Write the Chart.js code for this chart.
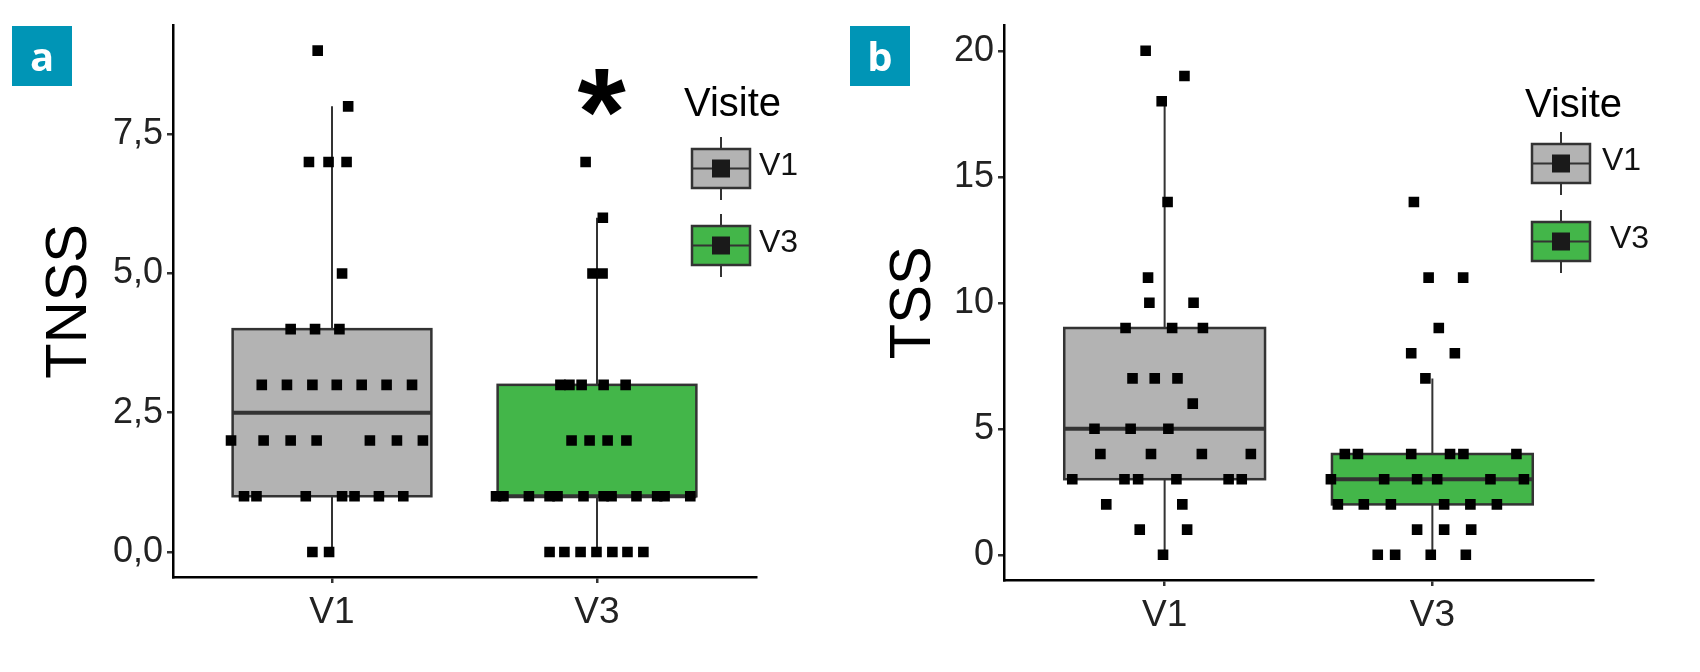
<!DOCTYPE html>
<html>
<head>
<meta charset="utf-8">
<script src="https://cdn.jsdelivr.net/npm/chart.js@4.4.1/dist/chart.umd.min.js"></script>
<style>
  body { margin: 0; background: #fff; }
  .panel { position: absolute; top: 0; width: 850px; height: 672px; }
  #panelA { left: 0; }
  #panelB { left: 850px; }
</style>
</head>
<body>
<div class="panel" id="panelA"><canvas id="chartA"></canvas></div>
<div class="panel" id="panelB"><canvas id="chartB"></canvas></div>
<script>
const categories = ['V1', 'V3'];
const boxColors = ['#B3B3B3', '#43B649'];

// TNSS (panel a) - values and jittered x positions
const tnssV1 = [9, 8, 7, 7, 7, 5, 4, 4, 4, 3, 3, 3, 3, 3, 3, 3, 2, 2, 2, 2, 2, 2, 2, 1, 1, 1, 1, 1, 1, 1, 0, 0];
const tnssV1X = [0.946, 1.061, 0.913, 0.987, 1.055, 1.038, 0.844, 0.936, 1.028, 0.735, 0.830, 0.926, 1.018, 1.112, 1.206, 1.302,
                 0.619, 0.742, 0.844, 0.942, 1.143, 1.245, 1.343, 0.668, 0.715, 0.901, 1.038, 1.085, 1.177, 1.269, 0.926, 0.989];
const tnssV3 = [7, 6, 5, 5, 3, 3, 3, 3, 3, 2, 2, 2, 2, 1, 1, 1, 1, 1, 1, 1, 1, 1, 1, 1, 1, 0, 0, 0, 0, 0, 0, 0];
const tnssV3X = [1.957, 2.022, 1.983, 2.021, 1.862, 1.896, 1.942, 2.025, 2.108, 1.904, 1.972, 2.040, 2.111,
                 1.619, 1.647, 1.743, 1.821, 1.851, 1.949, 2.025, 2.055, 2.149, 2.227, 2.255, 2.352,
                 1.821, 1.877, 1.938, 1.998, 2.058, 2.115, 2.175];
const tnssTicks = [0, 2.5, 5, 7.5];

// TSS (panel b)
const tssV1 = [20, 19, 18, 14, 11, 10, 10, 9, 9, 9, 7, 7, 7, 6, 5, 5, 5, 4, 4, 4, 4, 3, 3, 3, 3, 3, 3, 2, 2, 1, 1, 0];
const tssV1X = [0.929, 1.074, 0.989, 1.011, 0.938, 0.943, 1.108, 0.854, 1.028, 1.143, 0.880, 0.963, 1.048, 1.105,
                0.738, 0.873, 1.014, 0.760, 0.949, 1.139, 1.322, 0.655, 0.850, 0.901, 1.044, 1.239, 1.288,
                0.782, 1.066, 0.907, 1.084, 0.994];
const tssV3 = [14, 11, 11, 9, 8, 8, 7, 4, 4, 4, 4, 4, 4, 3, 3, 3, 3, 3, 3, 2, 2, 2, 2, 2, 2, 1, 1, 1, 0, 0, 0, 0];
const tssV3X = [1.931, 1.986, 2.115, 2.024, 1.921, 2.084, 1.974, 1.673, 1.722, 1.921, 2.066, 2.116, 2.314,
                1.621, 1.820, 1.943, 2.018, 2.217, 2.342, 1.647, 1.744, 1.845, 2.044, 2.142, 2.241,
                1.943, 2.044, 2.145, 1.796, 1.861, 1.994, 2.125];
const tssTicks = [0, 5, 10, 15, 20];

const FONT = "'Liberation Sans', Arial, sans-serif";
const LINE = '#333333';

// quantile type 7 (R default)
const quantile = (arr, p) => {
    const s = [...arr].sort((a, b) => a - b);
    const h = (s.length - 1) * p;
    const lo = Math.floor(h);
    const next = lo + 1 < s.length ? s[lo + 1] : s[lo];
    return s[lo] + (h - lo) * (next - s[lo]);
};

const boxStats = (values) => {
    const q1 = quantile(values, 0.25);
    const med = quantile(values, 0.5);
    const q3 = quantile(values, 0.75);
    const iqr = q3 - q1;
    const inside = values.filter(v => v >= q1 - 1.5 * iqr && v <= q3 + 1.5 * iqr);
    return { q1, med, q3, lo: Math.min(...inside), hi: Math.max(...inside) };
};

const boxPlotPlugin = {
    id: 'boxPlot',
    beforeDatasetsDraw(chart, args, opts) {
        const { ctx, scales: { x, y } } = chart;
        opts.groups.forEach((values, i) => {
            const s = boxStats(values);
            const pos = i + 1;
            const cx = x.getPixelForValue(pos);
            const xl = x.getPixelForValue(pos - 0.375);
            const xr = x.getPixelForValue(pos + 0.375);
            ctx.save();
            ctx.strokeStyle = LINE;
            ctx.lineWidth = 2;
            ctx.beginPath();
            ctx.moveTo(cx, y.getPixelForValue(s.hi));
            ctx.lineTo(cx, y.getPixelForValue(s.q3));
            ctx.moveTo(cx, y.getPixelForValue(s.q1));
            ctx.lineTo(cx, y.getPixelForValue(s.lo));
            ctx.stroke();
            const yt = y.getPixelForValue(s.q3);
            const yb = y.getPixelForValue(s.q1);
            ctx.fillStyle = boxColors[i];
            ctx.fillRect(xl, yt, xr - xl, yb - yt);
            ctx.lineWidth = 2.5;
            ctx.strokeRect(xl, yt, xr - xl, yb - yt);
            ctx.lineWidth = 4;
            ctx.beginPath();
            const ym = y.getPixelForValue(s.med);
            ctx.moveTo(xl, ym);
            ctx.lineTo(xr, ym);
            ctx.stroke();
            ctx.restore();
        });
    }
};

const decorPlugin = {
    id: 'decor',
    afterDraw(chart, args, opts) {
        const { ctx } = chart;
        ctx.save();
        // panel tag
        const t = opts.tag;
        ctx.fillStyle = '#0095B6';
        ctx.fillRect(t.x, t.y, 60, 60);
        ctx.fillStyle = '#fff';
        ctx.font = "bold 40px 'Open Sans', sans-serif";
        ctx.textAlign = 'center';
        ctx.textBaseline = 'alphabetic';
        ctx.fillText(t.text, t.x + 30, t.y + 45);

        // legend
        const L = opts.legend;
        ctx.textAlign = 'left';
        ctx.fillStyle = '#000';
        ctx.font = '40px ' + FONT;
        ctx.fillText('Visite', L.x, L.titleY);
        categories.forEach((cat, i) => {
            const top = L.keyTops[i];
            const kx = L.keyX, kw = 58, kh = 39;
            const mid = kx + kw / 2;
            ctx.strokeStyle = LINE;
            ctx.lineWidth = 2;
            ctx.beginPath();
            ctx.moveTo(mid, top - 12);
            ctx.lineTo(mid, top + kh + 12);
            ctx.stroke();
            ctx.fillStyle = boxColors[i];
            ctx.fillRect(kx, top, kw, kh);
            ctx.lineWidth = 2.5;
            ctx.strokeRect(kx, top, kw, kh);
            ctx.lineWidth = 2;
            ctx.beginPath();
            ctx.moveTo(kx, top + kh / 2);
            ctx.lineTo(kx + kw, top + kh / 2);
            ctx.stroke();
            ctx.fillStyle = '#1a1a1a';
            ctx.fillRect(mid - 9, top + kh / 2 - 9, 18, 18);
            ctx.fillStyle = '#111';
            ctx.font = '32px ' + FONT;
            ctx.fillText(cat, L.labelX[i], top + kh / 2 + 6);
        });

        // significance mark
        if (opts.star) {
            const { x, y } = chart.scales;
            ctx.font = 'bold 124px ' + FONT;
            ctx.textAlign = 'center';
            ctx.fillStyle = '#000';
            const m = ctx.measureText('*');
            const cy = y.getPixelForValue(opts.star.y);
            const base = cy + (m.actualBoundingBoxAscent - m.actualBoundingBoxDescent) / 2;
            ctx.fillText('*', x.getPixelForValue(opts.star.x), base);
        }
        ctx.restore();
    }
};

const makePoints = (xs, ys) => ys.map((v, i) => ({ x: xs[i], y: v }));

const makeChart = (canvasId, cfg) => new Chart(document.getElementById(canvasId), {
    type: 'scatter',
    data: {
        datasets: cfg.series.map(s => ({
            data: makePoints(s.x, s.y),
            pointStyle: 'rect',
            pointRadius: 7.5,
            pointBackgroundColor: '#000',
            pointBorderWidth: 0
        }))
    },
    options: {
        responsive: true,
        maintainAspectRatio: false,
        animation: false,
        layout: { padding: { left: 0, top: cfg.top, right: cfg.right, bottom: 0 } },
        plugins: {
            legend: { display: false },
            tooltip: { enabled: false },
            boxPlot: { groups: cfg.series.map(s => s.y) },
            decor: { tag: cfg.tag, legend: cfg.legend, star: cfg.star }
        },
        scales: {
            x: {
                type: 'linear',
                min: 0.4,
                max: 2.6,
                afterBuildTicks: s => { s.ticks = categories.map((c, i) => ({ value: i + 1 })); },
                afterFit: s => { s.height = cfg.xHeight; },
                ticks: {
                    callback: v => categories[v - 1],
                    font: { family: FONT, size: 37 },
                    color: '#222',
                    padding: 8,
                    autoSkip: false,
                    maxRotation: 0
                },
                grid: { display: true, drawOnChartArea: false, drawTicks: true, tickLength: 6, color: LINE, lineWidth: 2.5 },
                border: { display: true, color: '#000', width: 2.5 }
            },
            y: {
                min: cfg.yMin,
                max: cfg.yMax,
                afterBuildTicks: s => { s.ticks = cfg.yTicks.map(v => ({ value: v })); },
                afterFit: s => { s.width = cfg.yWidth; },
                ticks: {
                    callback: cfg.yFormat,
                    font: { family: FONT, size: 36 },
                    color: '#222',
                    padding: 4
                },
                title: {
                    display: true,
                    text: cfg.yTitle,
                    font: { family: FONT, size: 58 },
                    color: '#000',
                    padding: { top: cfg.titlePad, bottom: 0 }
                },
                grid: { display: true, drawOnChartArea: false, drawTicks: true, tickLength: 6, color: LINE, lineWidth: 2.5 },
                border: { display: true, color: '#000', width: 2.5 }
            }
        }
    },
    plugins: [boxPlotPlugin, decorPlugin]
});

makeChart('chartA', {
    series: [{ x: tnssV1X, y: tnssV1 }, { x: tnssV3X, y: tnssV3 }],
    top: 18, right: 94, yWidth: 173, xHeight: 95, titlePad: 35,
    yMin: -0.45, yMax: 9.45, yTicks: tnssTicks,
    yFormat: v => v.toFixed(1).replace('.', ','),
    yTitle: 'TNSS',
    tag: { x: 12, y: 26, text: 'a' },
    legend: { x: 684, titleY: 116, keyX: 692, keyTops: [149, 226], labelX: [759, 759] },
    star: { x: 2.017, y: 8.25 }
});

makeChart('chartB', {
    series: [{ x: tssV1X, y: tssV1 }, { x: tssV3X, y: tssV3 }],
    top: 21, right: 107, yWidth: 154, xHeight: 92, titlePad: 29,
    yMin: -1, yMax: 21, yTicks: tssTicks,
    yFormat: v => String(v),
    yTitle: 'TSS',
    tag: { x: 0, y: 26, text: 'b' },
    legend: { x: 675, titleY: 117, keyX: 682, keyTops: [144, 222], labelX: [752, 760] },
    star: null
});
</script>
</body>
</html>
